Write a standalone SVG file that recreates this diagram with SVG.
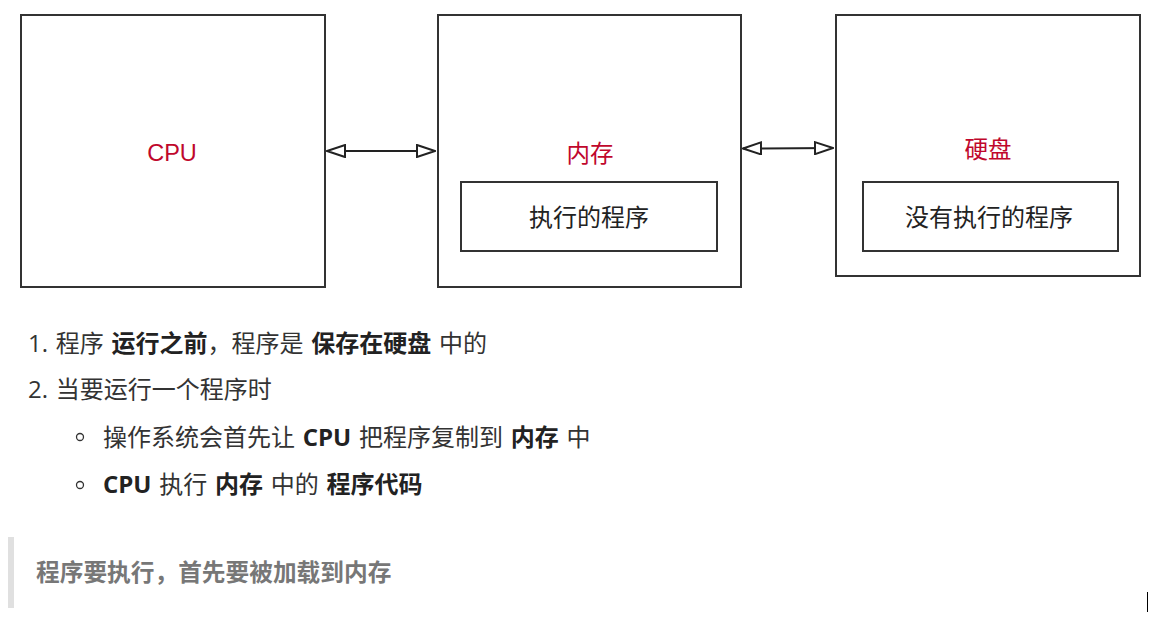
<svg xmlns="http://www.w3.org/2000/svg" width="1161" height="617" viewBox="0 0 1161 617">
<style>
.box{fill:#fff;stroke:#333;stroke-width:2}
.lbl{font-family:"Liberation Sans","Noto Sans CJK SC",sans-serif;font-size:23.5px;fill:#c0072c;text-anchor:middle}
.in{font-family:"Noto Sans CJK SC",sans-serif;font-size:24px;fill:#222;text-anchor:middle}
.t{font-family:"Open Sans","Noto Sans CJK SC",sans-serif;font-size:24px;fill:#333;word-spacing:1.5px}
.b{font-weight:bold;fill:#222}
.q{font-family:"Open Sans","Noto Sans CJK SC",sans-serif;font-size:23.7px;font-weight:bold;fill:#777}
.conn{stroke:#222;stroke-width:2;fill:none}
</style>
<defs>
<marker id="ah" viewBox="0 0 20 14" refX="19" refY="7" markerWidth="20" markerHeight="14" markerUnits="userSpaceOnUse" orient="auto-start-reverse">
<path d="M1,1 L19,7 L1,13 Z" fill="#fff" stroke="#222" stroke-width="2"/>
</marker>
</defs>
<rect width="1161" height="617" fill="#fff"/>
<g id="cpu">
<rect class="box" x="21" y="15" width="304" height="272"/>
<text class="lbl" x="172" y="161">CPU</text>
</g>
<g id="mem">
<rect class="box" x="438" y="15" width="303" height="272"/>
<text class="lbl" x="590" y="162">内存</text>
<rect class="box" x="461" y="182" width="256" height="69"/>
<text class="in" x="589" y="226">执行的程序</text>
</g>
<g id="disk">
<rect class="box" x="836" y="15" width="304" height="261"/>
<text class="lbl" x="988" y="158">硬盘</text>
<rect class="box" x="863" y="182" width="255" height="69"/>
<text class="in" x="989" y="226">没有执行的程序</text>
</g>
<g id="connectors">
<line class="conn" x1="327" y1="151" x2="435" y2="151" marker-start="url(#ah)" marker-end="url(#ah)"/>
<line class="conn" x1="743" y1="148.5" x2="833" y2="148" marker-start="url(#ah)" marker-end="url(#ah)"/>
</g>
<g id="notes">
<text class="t" x="28" y="352">1. 程序 <tspan class="b">运行之前</tspan>，程序是 <tspan class="b">保存在硬盘</tspan> 中的</text>
<text class="t" x="28" y="398">2. 当要运行一个程序时</text>
<circle cx="80" cy="437" r="3.5" fill="none" stroke="#333" stroke-width="1.3"/>
<text class="t" x="103" y="446">操作系统会首先让 <tspan class="b">CPU</tspan> 把程序复制到 <tspan class="b">内存</tspan> 中</text>
<circle cx="80" cy="485" r="3.5" fill="none" stroke="#333" stroke-width="1.3"/>
<text class="t" x="103" y="493"><tspan class="b">CPU</tspan> 执行 <tspan class="b">内存</tspan> 中的 <tspan class="b">程序代码</tspan></text>
<rect x="8" y="537" width="6" height="71" fill="#e0e0e0"/>
<text class="q" x="36" y="581">程序要执行，首先要被加载到内存</text>
<line x1="1147.5" y1="592" x2="1147.5" y2="612" stroke="#000" stroke-width="1"/>
</g>
</svg>
